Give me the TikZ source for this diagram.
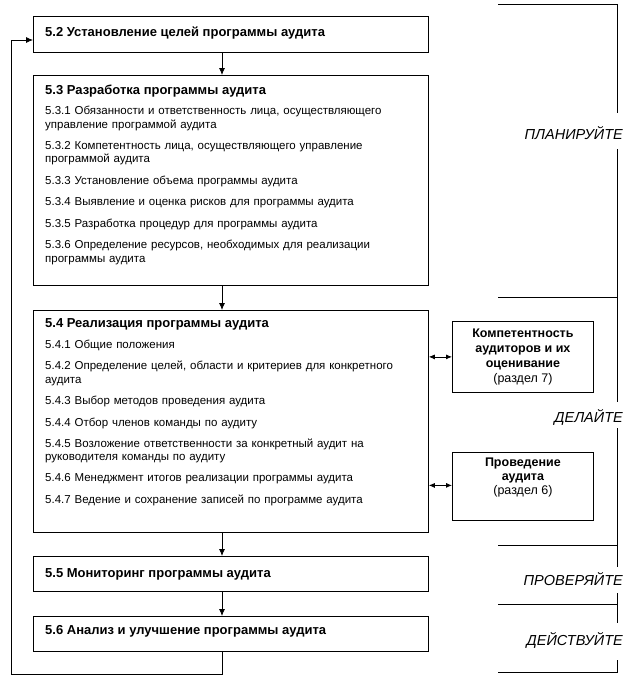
\documentclass[tikz,border=0pt]{standalone}
\usepackage{fontspec}
\setmainfont{Liberation Sans}
\usetikzlibrary{arrows.meta,calc}
\begin{document}
\begin{tikzpicture}[x=1pt,y=-1pt,
  box/.style={draw,line width=0.8pt,inner sep=0pt,anchor=north west},
  ttl/.style={anchor=base west,inner sep=0pt,font=\fontsize{13}{15}\selectfont\bfseries},
  itm/.style={anchor=base west,inner sep=0pt,text width=375pt,align=left,font=\fontsize{11.5}{13.5}\selectfont},
  side/.style={box,minimum width=141pt,align=center,font=\fontsize{12.5}{15}\selectfont},
  phase/.style={anchor=base east,inner sep=0pt,font=\fontsize{14.5}{16}\selectfont\itshape},
  arr/.style={line width=0.8pt,-{Latex[length=7pt,width=6pt]}},
  darr/.style={line width=0.8pt,{Latex[length=6pt,width=5pt]}-{Latex[length=6pt,width=5pt]}},
  brk/.style={line width=0.8pt}]
\useasboundingbox (0,0) rectangle (633,678);

% main boxes
\node[box,minimum width=395pt,minimum height=36pt] (b52) at (33,16) {};
\node[box,minimum width=395pt,minimum height=210pt] (b53) at (33,75) {};
\node[box,minimum width=395pt,minimum height=222pt] (b54) at (33,310) {};
\node[box,minimum width=395pt,minimum height=35pt] (b55) at (33,556) {};
\node[box,minimum width=395pt,minimum height=35pt] (b56) at (33,616) {};

% texts
\node[ttl] (t52) at (45,36) {5.2 Установление целей программы аудита};

\node[ttl] (t53) at (45,94) {5.3 Разработка программы аудита};
\node[itm] (t531) at (45,114.5) {5.3.1 Обязанности и ответственность лица, осуществляющего\\управление программой аудита};
\node[itm] (t532) at (45,149) {5.3.2 Компетентность лица, осуществляющего управление\\программой аудита};
\node[itm] (t533) at (45,184) {5.3.3 Установление объема программы аудита};
\node[itm] (t534) at (45,205.5) {5.3.4 Выявление и оценка рисков для программы аудита};
\node[itm] (t535) at (45,227) {5.3.5 Разработка процедур для программы аудита};
\node[itm] (t536) at (45,248.5) {5.3.6 Определение ресурсов, необходимых для реализации\\программы аудита};

\node[ttl] (t54) at (45,327.5) {5.4 Реализация программы аудита};
\node[itm] (t541) at (45,348.5) {5.4.1 Общие положения};
\node[itm] (t542) at (45,369.5) {5.4.2 Определение целей, области и критериев для конкретного\\аудита};
\node[itm] (t543) at (45,404) {5.4.3 Выбор методов проведения аудита};
\node[itm] (t544) at (45,426) {5.4.4 Отбор членов команды по аудиту};
\node[itm] (t545) at (45,447) {5.4.5 Возложение ответственности за конкретный аудит на\\руководителя команды по аудиту};
\node[itm] (t546) at (45,481.5) {5.4.6 Менеджмент итогов реализации программы аудита};
\node[itm] (t547) at (45,503.5) {5.4.7 Ведение и сохранение записей по программе аудита};

\node[ttl] (t55) at (45,577) {5.5 Мониторинг программы аудита};
\node[ttl] (t56) at (45,634) {5.6 Анализ и улучшение программы аудита};

% side boxes
\node[side,minimum height=71pt] (comp) at (452,321)
  {\bfseries Компетентность\\\bfseries аудиторов и их\\\bfseries оценивание\\(раздел 7)};
\node[box,minimum width=141pt,minimum height=68pt] (prov) at (452,452) {};
\node[anchor=north,inner sep=0pt,align=center,font=\fontsize{12.5}{14}\selectfont] (provt) at ($(prov.north)+(0,6)$)
  {\bfseries Проведение\\\bfseries аудита\\(раздел 6)};

% arrows
\coordinate (ax) at (222,0);
\draw[arr] (ax |- b52.south) -- (ax |- b53.north);
\draw[arr] (ax |- b53.south) -- (ax |- b54.north);
\draw[arr] (ax |- b54.south) -- (ax |- b55.north);
\draw[arr] (ax |- b55.south) -- (ax |- b56.north);
\coordinate (lb) at (11,674);
\coordinate (in52) at (33,40);
\draw[arr] (ax |- b56.south) |- (lb) |- (in52);

\draw[darr] (comp.west -| b54.east) -- (comp.west);
\draw[darr] ($(prov.west -| b54.east)+(0,-1)$) -- ($(prov.west)+(0,-1)$);

% phase bracket
\coordinate (p0) at (498,4);
\coordinate (p1) at (498,297);
\coordinate (p2) at (498,545);
\coordinate (p3) at (498,604);
\coordinate (p4) at (498,672);
\def\bx{617}
\draw[brk] (p0) -- (\bx,4) -- (\bx,113);
\draw[brk] (\bx,149) -- (\bx,402);
\draw[brk] (p1) -- (\bx,297);
\draw[brk] (\bx,428) -- (\bx,567);
\draw[brk] (p2) -- (\bx,545);
\draw[brk] (\bx,593) -- (\bx,623);
\draw[brk] (p3) -- (\bx,604);
\draw[brk] (\bx,660) -- (\bx,672) -- (p4);

\node[phase] (plan) at (623,139) {ПЛАНИРУЙТЕ};
\node[phase] (do) at (623,422) {ДЕЛАЙТЕ};
\node[phase] (check) at (623,585) {ПРОВЕРЯЙТЕ};
\node[phase] (act) at (623,645) {ДЕЙСТВУЙТЕ};
\end{tikzpicture}
\end{document}
